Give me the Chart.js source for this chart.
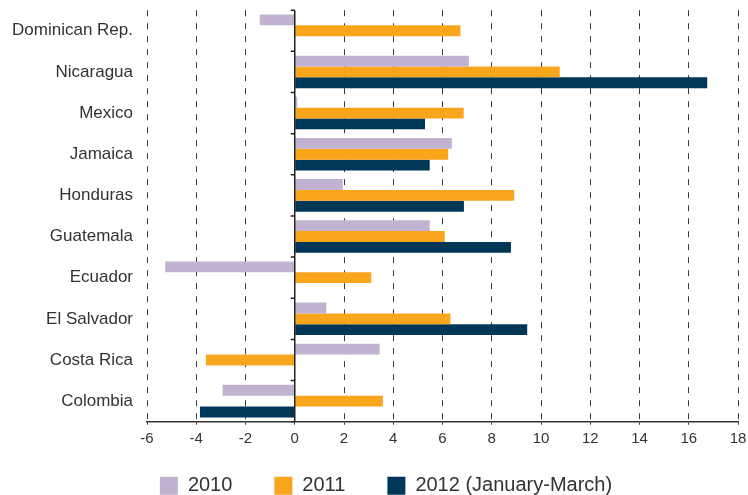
<!DOCTYPE html>
<html>
<head>
<meta charset="utf-8">
<script src="https://cdn.jsdelivr.net/npm/chart.js@4.4.0/dist/chart.umd.min.js"></script>
<style>
  body { margin: 0; background: #fff; }
</style>
</head>
<body>
<canvas id="chart" width="748" height="495"></canvas>
<script>
const countries = ["Dominican Rep.", "Nicaragua", "Mexico", "Jamaica", "Honduras", "Guatemala", "Ecuador", "El Salvador", "Costa Rica", "Colombia"];
const seriesNames = ["2010", "2011", "2012 (January-March)"];
const values2010 = [-1.42, 7.07, 0.1, 6.38, 1.95, 5.48, -5.26, 1.28, 3.45, -2.93];
const values2011 = [6.73, 10.76, 6.86, 6.23, 8.91, 6.09, 3.11, 6.32, -3.61, 3.58];
const values2012 = [null, 16.75, 5.29, 5.48, 6.87, 8.78, null, 9.44, null, -3.85];
const xMin = -6;
const xMax = 18;
const xStep = 2;

const fontFamily = "'Liberation Sans', Arial, sans-serif";
const textColor = "#333";

// zero line drawn on top of the bars, with small ticks between categories
const zeroAxisPlugin = {
  id: "zeroAxis",
  afterLayout(chart) {
    // nudge the legend row a little right and up, like the original
    const legend = chart.legend;
    legend.left += 17;
    legend.right += 17;
    legend.top -= 14;
  },
  afterDatasetsDraw(chart) {
    const { ctx, chartArea, scales } = chart;
    const zeroX = scales.x.getPixelForValue(0);
    ctx.save();
    ctx.strokeStyle = "#222";
    ctx.lineWidth = 1.5;
    ctx.beginPath();
    ctx.moveTo(zeroX, chartArea.top);
    ctx.lineTo(zeroX, chartArea.bottom);
    for (let i = 0; i <= countries.length; i++) {
      const py = scales.y.getPixelForValue(i - 0.5);
      ctx.moveTo(zeroX - 4, py);
      ctx.lineTo(zeroX, py);
    }
    ctx.stroke();
    ctx.restore();
  },
};

const chart = new Chart(document.querySelector("#chart"), {
  type: "bar",
  data: {
    labels: countries,
    datasets: [
      { label: seriesNames[0], data: values2010, backgroundColor: "#c0b2d0" },
      { label: seriesNames[1], data: values2011, backgroundColor: "#f9a61d" },
      { label: seriesNames[2], data: values2012, backgroundColor: "#003757" },
    ],
  },
  options: {
    indexAxis: "y",
    responsive: false,
    animation: false,
    datasets: {
      bar: { categoryPercentage: 0.79, barPercentage: 1.0 },
    },
    layout: {
      padding: { top: 10, right: 10, left: 0, bottom: 0 },
    },
    scales: {
      x: {
        min: xMin,
        max: xMax,
        ticks: {
          stepSize: xStep,
          padding: 5,
          color: textColor,
          font: { family: fontFamily, size: 15 },
        },
        grid: {
          color: (ctx) => (ctx.tick && ctx.tick.value === 0 ? "#222" : "#3a3a3a"),
          lineWidth: 1,
          drawTicks: true,
          tickLength: 3,
          tickColor: "#333",
          tickBorderDash: [],
        },
        border: {
          display: true,
          color: "#333",
          width: 1.5,
          dash: (ctx) => (ctx.tick && ctx.tick.value === 0 ? [] : [6, 7]),
        },
        afterFit: (scale) => {
          scale.height = 26;
          scale.paddingRight = 0;
        },
      },
      y: {
        ticks: {
          padding: 0,
          color: textColor,
          font: { family: fontFamily, size: 17 },
        },
        grid: {
          display: true,
          drawOnChartArea: false,
          drawTicks: true,
          tickLength: 14,
          tickColor: "rgba(0,0,0,0)",
        },
        border: { display: false },
        afterFit: (scale) => {
          scale.width = 147;
        },
      },
    },
    plugins: {
      legend: {
        position: "bottom",
        maxHeight: 47.3,
        labels: {
          boxWidth: 18,
          boxHeight: 18,
          padding: 42,
          color: textColor,
          font: { family: fontFamily, size: 20 },
        },
      },
      tooltip: { enabled: false },
    },
  },
  plugins: [zeroAxisPlugin],
});
</script>
</body>
</html>
